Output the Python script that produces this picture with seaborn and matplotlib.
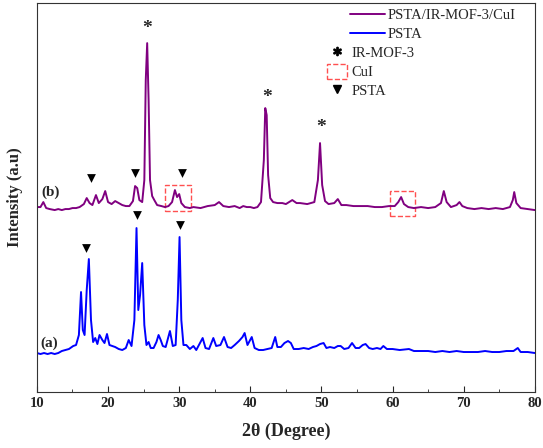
"""
XRD patterns of PSTA and PSTA/IR-MOF-3/CuI.
Saves the figure to out.png.
"""
import matplotlib
matplotlib.use('Agg')
import matplotlib.pyplot as plt
import seaborn as sns
from matplotlib.lines import Line2D
from matplotlib.patches import Patch, Rectangle

# (b) PSTA/IR-MOF-3/CuI, offset pattern
two_theta_b = [10.0, 10.5, 10.9, 11.3, 11.8, 12.5, 13.0, 13.5, 14.0, 14.5, 15.0, 15.5,
               16.0, 16.6, 17.0, 17.4, 17.8, 18.3, 18.7, 19.2, 19.6, 20.0, 20.5, 21.0,
               21.5, 22.0, 22.5, 23.0, 23.5, 23.8, 24.1, 24.4, 24.8, 25.1, 25.3, 25.5,
               25.7, 25.9, 26.2, 26.5, 26.9, 27.5, 28.0, 28.5, 29.0, 29.4, 29.7, 30.0,
               30.3, 30.8, 31.5, 32.0, 33.0, 34.0, 35.0, 35.6, 36.2, 37.0, 37.8, 38.5,
               39.0, 39.5, 40.0, 40.5, 41.0, 41.5, 41.9, 42.1, 42.3, 42.5, 42.8, 43.2,
               43.8, 44.5, 45.0, 45.9, 46.5, 47.0, 48.0, 49.0, 49.5, 49.8, 50.1, 50.5,
               51.0, 51.8, 52.3, 52.8, 53.5, 54.5, 55.5, 56.5, 57.5, 58.5, 59.5, 60.3,
               60.8, 61.2, 61.6, 62.2, 63.0, 64.0, 65.0, 66.0, 66.8, 67.2, 67.6, 68.2,
               69.0, 69.4, 69.8, 70.5, 71.5, 72.5, 73.5, 74.5, 75.5, 76.5, 76.9, 77.1,
               77.4, 78.0, 79.0, 80.0]
intensity_b = [185, 185, 190, 184, 183, 182, 183, 182, 183, 183, 184, 184,
               185, 188, 194, 189, 187, 197, 189, 193, 201, 190, 188, 191,
               189, 187, 186, 186, 191, 206, 204, 192, 190, 212, 312, 349,
               292, 212, 196, 192, 187, 186, 185, 186, 190, 202, 195, 198,
               189, 185, 184, 185, 184, 186, 187, 190, 186, 185, 186, 184,
               186, 185, 185, 184, 185, 190, 232, 284, 277, 217, 194, 190,
               189, 189, 188, 192, 189, 189, 188, 190, 212, 249, 207, 191,
               188, 189, 193, 187, 187, 186, 186, 186, 185, 185, 186, 186,
               190, 195, 188, 185, 184, 185, 184, 185, 189, 201, 190, 185,
               187, 190, 186, 184, 183, 184, 183, 184, 183, 185, 192, 200,
               189, 184, 183, 182]

# (a) PSTA
two_theta_a = [10.0, 10.5, 11.0, 11.5, 12.0, 12.5, 13.0, 13.5, 14.0, 14.5, 15.1, 15.5,
               15.9, 16.2, 16.45, 16.7, 17.0, 17.3, 17.6, 17.9, 18.2, 18.5, 18.8, 19.2,
               19.5, 19.85, 20.2, 20.6, 21.0, 21.5, 22.0, 22.5, 22.9, 23.3, 23.7, 24.0,
               24.25, 24.5, 24.8, 25.1, 25.4, 25.7, 26.0, 26.4, 26.8, 27.1, 27.4, 27.7,
               28.1, 28.7, 29.1, 29.5, 29.8, 30.05, 30.3, 30.6, 31.0, 31.5, 32.0, 32.4,
               33.0, 33.3, 33.7, 34.2, 34.8, 35.2, 35.8, 36.3, 36.8, 37.3, 37.8, 38.4,
               38.9, 39.2, 39.6, 40.2, 40.6, 41.2, 41.8, 42.4, 43.0, 43.5, 43.8, 44.3,
               44.8, 45.3, 45.7, 46.1, 46.8, 47.5, 48.2, 48.8, 49.3, 49.8, 50.3, 50.7,
               51.2, 51.8, 52.3, 52.7, 53.2, 53.8, 54.3, 54.8, 55.3, 55.8, 56.2, 56.7,
               57.2, 57.8, 58.3, 58.7, 59.2, 60.0, 61.0, 62.3, 63.0, 64.0, 65.0, 66.0,
               67.0, 68.0, 69.0, 70.0, 71.0, 72.0, 73.0, 74.0, 75.0, 76.0, 77.0, 77.6,
               78.0, 79.0, 80.0]
intensity_a = [39, 38, 39, 38, 39, 38, 39, 41, 42, 43, 46, 47,
               57, 100, 62, 57, 102, 133, 72, 50, 54, 48, 57, 52,
               49, 58, 47, 46, 45, 43, 42, 44, 52, 46, 72, 164,
               82, 97, 129, 67, 47, 50, 44, 44, 50, 57, 52, 46,
               45, 61, 46, 47, 92, 155, 72, 47, 47, 43, 46, 42,
               50, 54, 44, 43, 54, 46, 47, 55, 45, 44, 47, 51,
               55, 59, 47, 55, 44, 42, 42, 43, 44, 55, 45, 45,
               49, 51, 49, 43, 43, 44, 43, 45, 46, 48, 49, 44,
               45, 44, 46, 46, 43, 44, 49, 44, 44, 47, 48, 44,
               43, 44, 43, 46, 43, 43, 42, 43, 41, 41, 41, 40,
               41, 40, 41, 40, 40, 40, 41, 40, 40, 41, 41, 44,
               40, 40, 39]

# peak markers
mof_peaks = [25.5, 42.3, 49.9]
mof_mark_y = [364, 295, 265]
psta_b_peaks = [17.6, 23.8, 30.4]
psta_b_mark_y = [214, 219, 219]
psta_a_peaks = [16.9, 24.0, 30.1]
psta_a_mark_y = [144, 177, 167]
cui_boxes = [(28.0, 31.7, 181, 207), (59.6, 63.2, 176, 201)]

PURPLE = '#800080'
BLUE = '#0000ff'
BOX_RED = '#ff5050'


def main():
    sns.set_style('ticks')
    plt.rcParams['font.family'] = ['Liberation Serif', 'DejaVu Serif']
    plt.rcParams['mathtext.fontset'] = 'stix'

    fig = plt.figure(figsize=(5.43, 4.48), dpi=100)
    ax = fig.add_axes([0.068, 0.125, 0.917, 0.868])

    sns.lineplot(x=two_theta_b, y=intensity_b, color=PURPLE, lw=1.4, ax=ax, sort=False)
    sns.lineplot(x=two_theta_a, y=intensity_a, color=BLUE, lw=1.4, ax=ax, sort=False)

    for x, y in zip(mof_peaks, mof_mark_y):
        ax.text(x, y, '*', ha='center', va='center', fontsize=14, fontweight='bold')
    ax.scatter(psta_b_peaks + psta_a_peaks, psta_b_mark_y + psta_a_mark_y,
               marker='v', s=40, color='black', zorder=5, linewidths=0)
    for x0, x1, y0, y1 in cui_boxes:
        ax.add_patch(Rectangle((x0, y0), x1 - x0, y1 - y0, fill=False,
                               edgecolor=BOX_RED, lw=1.0, ls='--'))

    ax.text(10.6, 200, '(b)', fontsize=11, fontweight='bold', va='center')
    ax.text(10.5, 49, '(a)', fontsize=11, fontweight='bold', va='center')

    ax.set_xlim(10, 80)
    ax.set_ylim(0, 389)
    ax.set_xticks(range(10, 81, 10))
    ax.set_xticks(range(15, 80, 10), minor=True)
    ax.set_yticks([])
    ax.tick_params(axis='x', which='both', direction='in', labelsize=10.5)
    ax.tick_params(axis='x', which='major', length=4)
    ax.tick_params(axis='x', which='minor', length=2.5)
    for lbl in ax.get_xticklabels():
        lbl.set_fontweight('bold')
    for sp in ax.spines.values():
        sp.set_visible(True)
        sp.set_color('#333333')
    ax.set_xlabel('2θ (Degree)', fontsize=13, fontweight='bold', labelpad=9)
    ax.set_ylabel('Intensity (a.u)', fontsize=12, fontweight='bold', labelpad=10)

    line_handles = [Line2D([], [], color=PURPLE, lw=1.4), Line2D([], [], color=BLUE, lw=1.4)]
    leg1 = ax.legend(line_handles, ['PSTA/IR-MOF-3/CuI', 'PSTA'], loc='upper left',
                     bbox_to_anchor=(0.628, 0.985), frameon=False, fontsize=10.5,
                     handlelength=2.4, handletextpad=0.2, labelspacing=0.4,
                     borderpad=0, borderaxespad=0)
    ax.add_artist(leg1)
    mark_handles = [Line2D([], [], color='black', marker='$*$', ms=6, ls='none'),
                    Patch(facecolor='none', edgecolor=BOX_RED, ls='--', lw=1.0),
                    Line2D([], [], color='black', marker='v', ms=6, ls='none')]
    ax.legend(mark_handles, ['IR-MOF-3', 'CuI', 'PSTA'], loc='upper left',
              bbox_to_anchor=(0.582, 0.893), frameon=False, fontsize=10.5,
              handlelength=1.4, handleheight=1.2, handletextpad=0.3, labelspacing=0.25,
              borderpad=0, borderaxespad=0)

    fig.savefig('out.png', dpi=100)
    plt.close(fig)


if __name__ == '__main__':
    main()
